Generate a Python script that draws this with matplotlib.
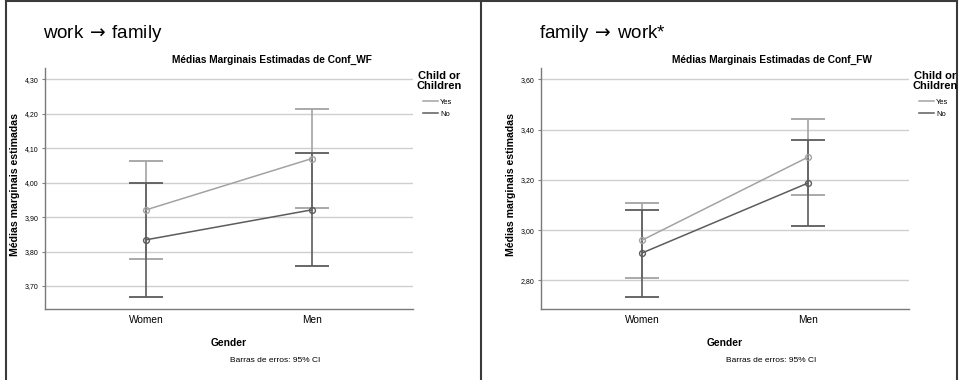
import matplotlib
matplotlib.use("Agg")
import matplotlib.pyplot as plt
from matplotlib.lines import Line2D

plt.rcParams['font.family'] = ['Liberation Sans', 'DejaVu Sans']
plt.rcParams['mathtext.fontset'] = 'dejavusans'

genders = ["Women", "Men"]
groups = ["Yes", "No"]

# Conf_WF (work -> family)
wf_means = {"Yes": [3.921, 4.070], "No": [3.834, 3.921]}
wf_lower = {"Yes": [3.779, 3.926], "No": [3.668, 3.757]}
wf_upper = {"Yes": [4.063, 4.214], "No": [4.000, 4.085]}
wf_ticks = [3.70, 3.80, 3.90, 4.00, 4.10, 4.20, 4.30]
wf_ticklabels = ["3,70", "3,80", "3,90", "4,00", "4,10", "4,20", "4,30"]

# Conf_FW (family -> work)
fw_means = {"Yes": [2.960, 3.290], "No": [2.909, 3.187]}
fw_lower = {"Yes": [2.810, 3.140], "No": [2.734, 3.017]}
fw_upper = {"Yes": [3.107, 3.443], "No": [3.081, 3.357]}
fw_ticks = [2.80, 3.00, 3.20, 3.40, 3.60]
fw_ticklabels = ["2,80", "3,00", "3,20", "3,40", "3,60"]

colors = {"Yes": "#a3a3a3", "No": "#5c5c5c"}

W, H = 959, 380
fig = plt.figure(figsize=(W / 100, H / 100), dpi=100)


def fx(px):
    return px / W


def fy(py):
    return 1 - py / H


def panel(left_px, means, lower, upper, ticks, ticklabels, ylim, heading, title, title_x):
    ax = fig.add_axes([fx(left_px), fy(309), fx(368), 241 / H])
    xs = list(range(len(genders)))
    for g in groups:
        m = means[g]
        err = [[m[i] - lower[g][i] for i in xs], [upper[g][i] - m[i] for i in xs]]
        ax.errorbar(xs, m, yerr=err, fmt="none", ecolor=colors[g],
                    elinewidth=1.2, capsize=12.5, capthick=1.3, zorder=3)
        ax.plot(xs, m, color=colors[g], lw=1.1, marker="o", ms=4.2,
                mfc="none", mec=colors[g], mew=1.0, zorder=4)
    ax.set_xlim(-0.61, 1.61)
    ax.set_ylim(*ylim)
    ax.set_xticks(xs)
    ax.set_xticklabels(genders, fontsize=7.3)
    ax.set_yticks(ticks)
    ax.set_yticklabels(ticklabels, fontsize=5.0)
    ax.tick_params(axis="x", length=0, pad=4)
    ax.tick_params(axis="y", length=2.5, width=0.8, color="#808080", pad=2)
    ax.grid(axis="y", color="#cfcfcf", lw=1.0, zorder=0)
    ax.set_axisbelow(True)
    for s in ["top", "right"]:
        ax.spines[s].set_visible(False)
    for s in ["left", "bottom"]:
        ax.spines[s].set_color("#7a7a7a")
        ax.spines[s].set_linewidth(1.0)
    ax.set_xlabel("Gender", fontsize=7.4, fontweight="bold", labelpad=10)
    ax.set_ylabel("Médias marginais estimadas", fontsize=7.6, fontweight="bold")
    ax.yaxis.set_label_coords(-0.068, 0.515)
    ax.set_title(title, fontsize=7.3, fontweight="bold", x=title_x, y=1.0, pad=4)

    fig.text(fx(left_px - 2), fy(33), heading, fontsize=13.5, va="center", ha="left")
    fig.text(fx(left_px + 230), fy(361), "Barras de erros: 95% CI", fontsize=6.0,
             ha="center", va="center")

    # legend heading and entries
    fig.text(fx(left_px + 394), fy(71), "Child or\nChildren", fontsize=8,
             fontweight="bold", ha="center", va="top", linespacing=0.95)
    handles = [Line2D([], [], color=colors[g], lw=1.1) for g in groups]
    fig.legend(handles, groups, loc="upper left",
               bbox_to_anchor=(fx(left_px + 377.5), fy(98.5)),
               frameon=False, fontsize=5.4,
               handlelength=2.1, handletextpad=0.25, labelspacing=0.62,
               borderpad=0, borderaxespad=0)
    return ax


panel(45, wf_means, wf_lower, wf_upper, wf_ticks, wf_ticklabels,
      (3.633, 4.333), r"work$\,\rightarrow\,$family",
      "Médias Marginais Estimadas de Conf_WF", 0.617)
panel(541, fw_means, fw_lower, fw_upper, fw_ticks, fw_ticklabels,
      (2.686, 3.645), r"family$\,\rightarrow\,$work*",
      "Médias Marginais Estimadas de Conf_FW", 0.627)

# Panel frame lines
frame_kw = dict(color="#3a3a3a", lw=1.5)
fig.add_artist(Line2D([fx(6), fx(6)], [0, fy(1)], **frame_kw))
fig.add_artist(Line2D([fx(480.5), fx(480.5)], [0, fy(1)], **frame_kw))
fig.add_artist(Line2D([fx(957), fx(957)], [0, fy(1)], **frame_kw))
fig.add_artist(Line2D([fx(6), fx(957)], [fy(1), fy(1)], **frame_kw))

fig.savefig("out.png", dpi=100)
